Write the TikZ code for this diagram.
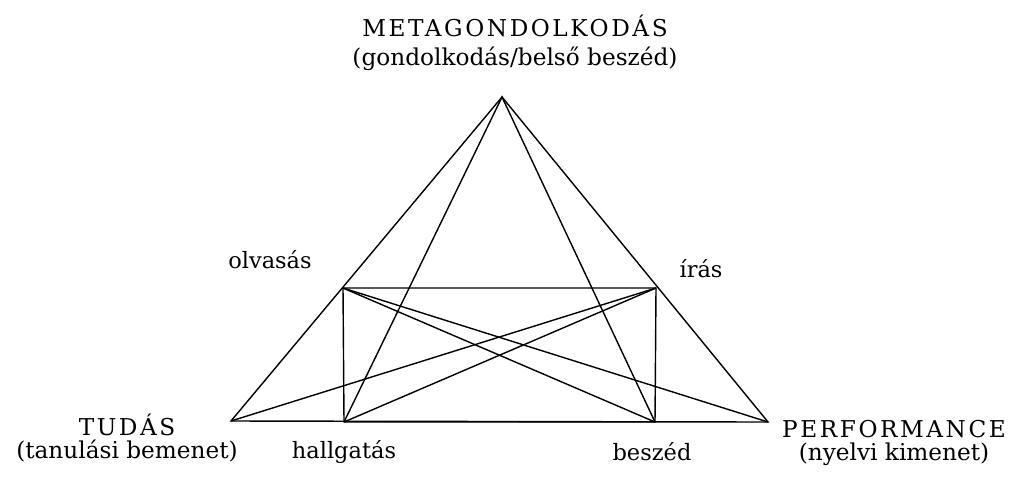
\documentclass[tikz,border=0pt]{standalone}
\usepackage{fontspec}
\setmainfont{DejaVu Serif}
\newfontfamily\spacedcaps{DejaVu Serif}[LetterSpace=11]
\usepackage{tikz}
\usetikzlibrary{positioning}
\tikzset{
  edge/.style  = {draw=black, line width=1pt},
  pole/.style  = {align=center, anchor=base, inner sep=0pt,
                  font=\fontsize{16.5}{16}\selectfont},
  skill/.style = {anchor=base, inner sep=0pt, font=\fontsize{16}{18}\selectfont},
}

\begin{document}
\begin{tikzpicture}[x=0.025cm, y=-0.025cm]
  \useasboundingbox (0,0) rectangle (1010,482);

  % corners of the triangle and the rectangle
  \coordinate (apex) at (502,97);
  \coordinate (olv)  at (343,288);
  \coordinate (iras) at (656,288);
  \coordinate (tud)  at (231,421);
  \coordinate (hall) at (344,422);
  \coordinate (besz) at (655,422);
  \coordinate (perf) at (768,422);

  \node[pole, font=\fontsize{16.5}{20}\selectfont] (meta) at (515,65)
       {{\spacedcaps METAGONDOLKODÁS}\\(gondolkodás/belső beszéd)};
  \node[pole] (tudl) at (127,458) {{\spacedcaps TUDÁS}\\(tanulási bemenet)};
  \node[pole] (perfl) at (894,460) {{\spacedcaps PERFORMANCE}\\(nyelvi kimenet)};

  \node[skill] (olvl)  at (270,268) {olvasás};
  \node[skill] (irasl) at (701,277) {írás};
  \node[skill] (halll) at (344,458) {hallgatás};
  \node[skill] (beszl) at (652,460) {beszéd};

  \draw[edge] (tud) -- (apex) -- (perf) -- cycle;
  \draw[edge] (olv) -- (iras) -- (besz) -- (hall) -- cycle;
  \draw[edge] (hall) -- (apex) -- (besz);
  \draw[edge] (olv) -- (besz);
  \draw[edge] (olv) -- (perf);
  \draw[edge] (iras) -- (hall);
  \draw[edge] (iras) -- (tud);

\end{tikzpicture}
\end{document}
